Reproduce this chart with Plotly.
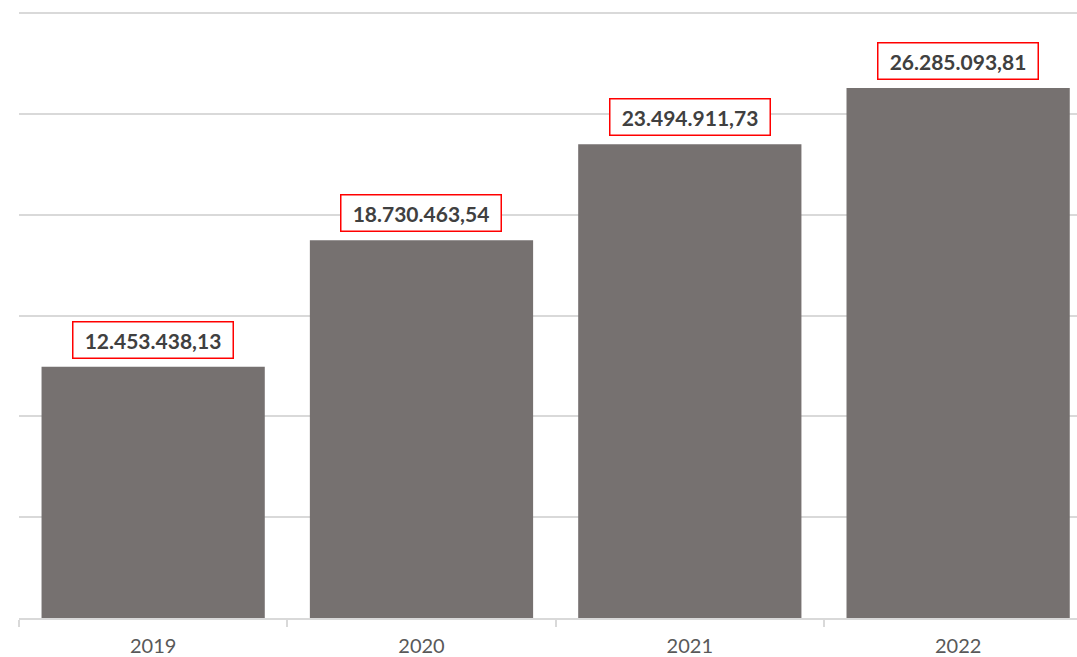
import plotly.graph_objects as go

years = ["2019", "2020", "2021", "2022"]
values = [12453438.13, 18730463.54, 23494911.73, 26285093.81]


def fmt(v):
    s = f"{v:,.2f}"
    return s.replace(",", "X").replace(".", ",").replace("X", ".")


fig = go.Figure()
fig.add_trace(go.Bar(
    x=years, y=values,
    marker=dict(color="#767170", line=dict(width=0)),
    hoverinfo="skip",
))

for i, v in enumerate(values):
    fig.add_annotation(
        x=i, y=v, xref="x", yref="y",
        text="<b>" + fmt(v) + "</b>",
        showarrow=False, yanchor="bottom", yshift=8,
        font=dict(family="Lato", size=21, color="#404040"),
        bgcolor="white", bordercolor="#ff0000", borderwidth=1.5,
        borderpad=0, width=159, height=35,
    )

fig.update_layout(
    width=1077, height=657,
    margin=dict(l=19, r=0, t=11, b=39),
    paper_bgcolor="white", plot_bgcolor="white",
    showlegend=False,
    bargap=0.168,
    xaxis=dict(
        type="category",
        range=[-0.5, 3.443],
        automargin=False,
        showline=True, linecolor="#d9d9d9", linewidth=1.5,
        ticks="outside", tickson="boundaries", ticklen=7,
        tickcolor="#d9d9d9", tickwidth=1.5,
        tickfont=dict(family="Lato", size=20, color="#595959"),
        ticklabelstandoff=9,
        showgrid=False,
    ),
    yaxis=dict(
        range=[0, 30.1e6], dtick=5e6,
        automargin=False,
        showticklabels=False, zeroline=False,
        showgrid=True, gridcolor="#d9d9d9", gridwidth=1.5,
    ),
)

fig.write_html("out.html", config={"displayModeBar": False},
               post_script="document.body.style.margin='0px';")
